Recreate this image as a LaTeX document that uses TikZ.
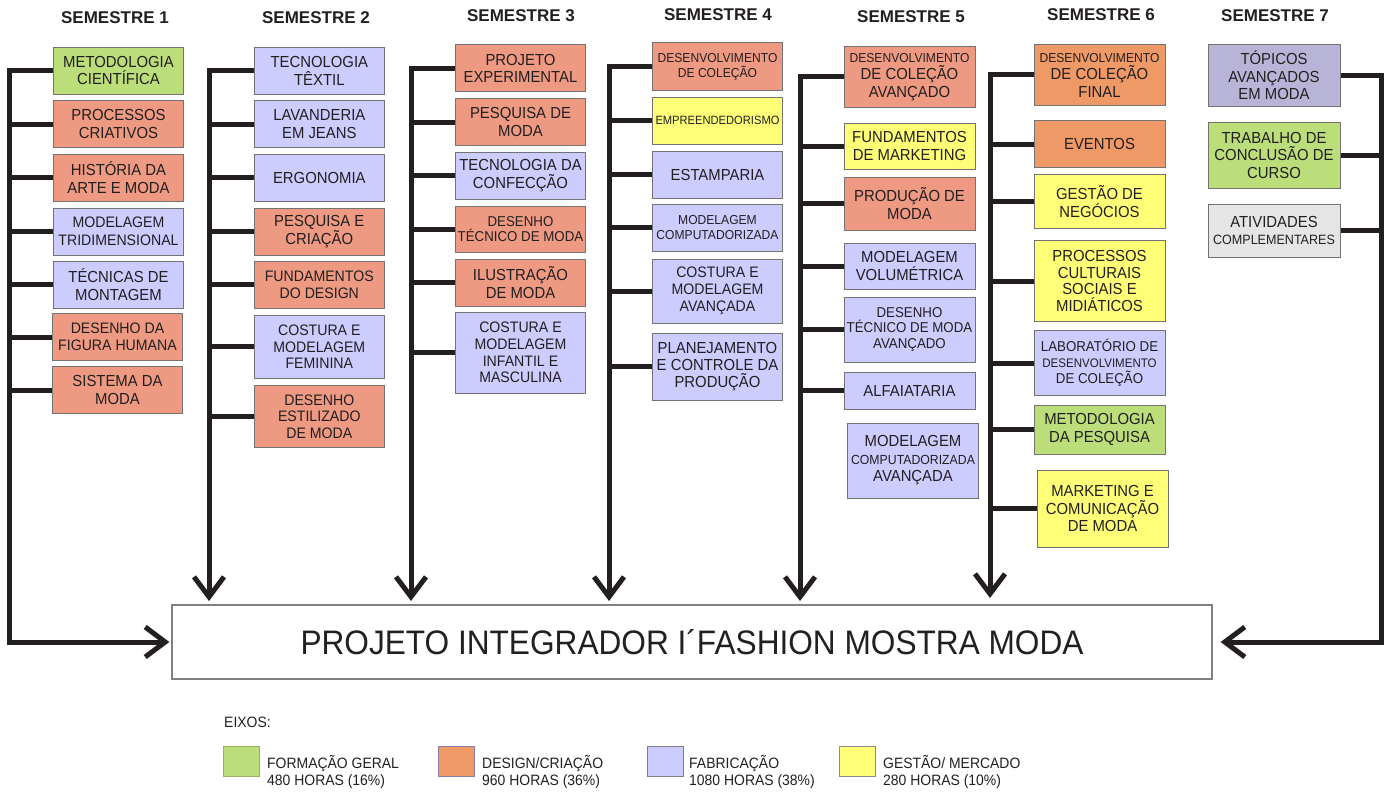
\documentclass[tikz,border=0pt]{standalone}
\usepackage{fontspec}
\setmainfont{Liberation Sans}
\newfontfamily\boxfont[FakeStretch=0.93]{Liberation Sans}
\usetikzlibrary{arrows.meta}
\definecolor{verde}{RGB}{187,221,122}
\definecolor{salmao}{RGB}{238,154,130}
\definecolor{laranja}{RGB}{238,153,102}
\definecolor{lilas}{RGB}{204,204,255}
\definecolor{amarelo}{RGB}{255,255,119}
\definecolor{roxo}{RGB}{184,180,216}
\definecolor{cinza}{RGB}{229,229,229}
\definecolor{tinta}{RGB}{35,31,32}
\newcommand{\tam}[2]{\fontsize{#1}{#2}\selectfont}
\begin{document}
\begin{tikzpicture}[
        x=1pt, y=-1pt,
        line join=miter,
        font=\boxfont,
        text=tinta
    ]
    \tikzset{
        disc/.style = {rectangle, draw=black!55, line width=1pt, align=center, minimum width=130pt, inner sep=1pt, font=\boxfont\tam{16}{17.5}},
        discmd/.style = {disc, font=\boxfont\tam{14.3}{15.7}},
        discpq/.style = {disc, font=\boxfont\tam{13}{14.5}},
        semnode/.style = {font=\bfseries\tam{17}{20}},
        ramo/.style = {draw=tinta, line width=5pt},
        seta/.style = {ramo, -{Straight Barb[length=20pt,width=30pt]}},
        legbox/.style = {rectangle, line width=1pt, minimum width=36pt, minimum height=30pt, inner sep=0pt},
        legtext/.style = {anchor=base west, inner sep=0pt, font=\boxfont\tam{15}{17}}
    }
    \useasboundingbox (0,0) rectangle (1390,792);

    \node[semnode] (h1) at (115,18) {SEMESTRE 1};
    \node[semnode] (h2) at (316,18) {SEMESTRE 2};
    \node[semnode] (h3) at (521,16) {SEMESTRE 3};
    \node[semnode] (h4) at (718,14.5) {SEMESTRE 4};
    \node[semnode] (h5) at (911,17) {SEMESTRE 5};
    \node[semnode] (h6) at (1101,15) {SEMESTRE 6};
    \node[semnode] (h7) at (1275,16) {SEMESTRE 7};

    \node[disc, fill=verde, minimum height=47pt] (s1a) at (118.5,70.7) {METODOLOGIA\\CIENTÍFICA};
    \node[disc, fill=salmao, minimum height=47pt] (s1b) at (118.5,124.2) {PROCESSOS\\CRIATIVOS};
    \node[disc, fill=salmao, minimum height=47pt] (s1c) at (118.5,177.8) {HISTÓRIA DA\\ARTE E MODA};
    \node[disc, fill=lilas, minimum height=47pt, font=\boxfont\tam{15.2}{17.5}] (s1d) at (118.5,231.5) {MODELAGEM\\TRIDIMENSIONAL};
    \node[disc, fill=lilas, minimum height=47pt] (s1e) at (118.5,284.7) {TÉCNICAS DE\\MONTAGEM};
    \node[disc, fill=salmao, minimum height=47pt, font=\boxfont\tam{15.2}{17.5}] (s1f) at (117.5,337) {DESENHO DA\\FIGURA HUMANA};
    \node[disc, fill=salmao, minimum height=47pt] (s1g) at (117.5,390) {SISTEMA DA\\MODA};

    \node[disc, fill=lilas, minimum height=47pt] (s2a) at (319.3,70.7) {TECNOLOGIA\\TÊXTIL};
    \node[disc, fill=lilas, minimum height=47pt] (s2b) at (319.3,124.2) {LAVANDERIA\\EM JEANS};
    \node[disc, fill=lilas, minimum height=47pt] (s2c) at (319.3,177.8) {ERGONOMIA};
    \node[disc, fill=salmao, minimum height=47pt] (s2d) at (319.3,231.5) {PESQUISA E\\CRIAÇÃO};
    \node[disc, fill=salmao, minimum height=47pt, font=\boxfont\tam{15.2}{17.5}] (s2e) at (319.3,284.7) {FUNDAMENTOS\\DO DESIGN};
    \node[disc, fill=lilas, minimum height=63pt, font=\boxfont\tam{15.2}{16.7}] (s2f) at (319.3,346.7) {COSTURA E\\MODELAGEM\\FEMININA};
    \node[disc, fill=salmao, minimum height=62pt, font=\boxfont\tam{15.2}{16.7}] (s2g) at (319.3,416.5) {DESENHO\\ESTILIZADO\\DE MODA};

    \node[disc, fill=salmao, minimum height=47pt] (s3a) at (520.5,68.5) {PROJETO\\EXPERIMENTAL};
    \node[disc, fill=salmao, minimum height=47pt] (s3b) at (520.5,122) {PESQUISA DE\\MODA};
    \node[disc, fill=lilas, minimum height=47pt] (s3c) at (520.5,175.5) {TECNOLOGIA DA\\CONFECÇÃO};
    \node[discmd, fill=salmao, minimum height=46pt] (s3d) at (520.5,229) {DESENHO\\TÉCNICO DE MODA};
    \node[disc, fill=salmao, minimum height=47pt] (s3e) at (520.5,282.5) {ILUSTRAÇÃO\\DE MODA};
    \node[disc, fill=lilas, minimum height=81pt, font=\boxfont\tam{15.2}{16.7}] (s3f) at (520.5,352.5) {COSTURA E\\MODELAGEM\\INFANTIL E\\MASCULINA};

    \node[discpq, fill=salmao, minimum height=48pt] (s4a) at (717.5,67) {DESENVOLVIMENTO\\DE COLEÇÃO};
    \node[disc, fill=amarelo, minimum height=47pt, font=\boxfont\tam{12}{14}] (s4b) at (717.5,120.5) {EMPREENDEDORISMO};
    \node[disc, fill=lilas, minimum height=47pt] (s4c) at (717.5,174.5) {ESTAMPARIA};
    \node[discpq, fill=lilas, minimum height=47pt] (s4d) at (717.5,227.5) {MODELAGEM\\COMPUTADORIZADA};
    \node[disc, fill=lilas, minimum height=64pt, font=\boxfont\tam{15.2}{16.7}] (s4e) at (717.5,291) {COSTURA E\\MODELAGEM\\AVANÇADA};
    \node[disc, fill=lilas, minimum height=67pt, font=\boxfont\tam{16}{17}] (s4f) at (717.5,366.5) {PLANEJAMENTO\\E CONTROLE DA\\PRODUÇÃO};

    \node[disc, fill=salmao, minimum height=60pt, minimum width=131pt] (s5a) at (909.5,77) {{\tam{13}{14.5}DESENVOLVIMENTO}\\DE COLEÇÃO\\AVANÇADO};
    \node[disc, fill=amarelo, minimum height=46pt, minimum width=131pt] (s5b) at (909.5,146) {FUNDAMENTOS\\DE MARKETING};
    \node[disc, fill=salmao, minimum height=53pt, minimum width=131pt] (s5c) at (909.5,203.5) {PRODUÇÃO DE\\MODA};
    \node[disc, fill=lilas, minimum height=46pt, minimum width=131pt] (s5d) at (909.5,266) {MODELAGEM\\VOLUMÉTRICA};
    \node[discmd, fill=lilas, minimum height=65pt, minimum width=131pt] (s5e) at (909.5,329.5) {DESENHO\\TÉCNICO DE MODA\\AVANÇADO};
    \node[disc, fill=lilas, minimum height=37pt, minimum width=131pt] (s5f) at (909.5,390.5) {ALFAIATARIA};
    \node[disc, fill=lilas, minimum height=75pt, minimum width=131pt] (s5g) at (913,460.5) {MODELAGEM\\{\tam{13.2}{15}COMPUTADORIZADA}\\AVANÇADA};

    \node[disc, fill=laranja, minimum height=60pt, minimum width=131pt] (s6a) at (1099.5,75) {{\tam{13}{14.5}DESENVOLVIMENTO}\\DE COLEÇÃO\\FINAL};
    \node[disc, fill=laranja, minimum height=47pt, minimum width=131pt] (s6b) at (1099.5,144) {EVENTOS};
    \node[disc, fill=amarelo, minimum height=54pt, minimum width=131pt] (s6c) at (1099.5,201.5) {GESTÃO DE\\NEGÓCIOS};
    \node[disc, fill=amarelo, minimum height=81pt, minimum width=131pt, font=\boxfont\tam{16}{16.8}] (s6d) at (1099.5,281) {PROCESSOS\\CULTURAIS\\SOCIAIS E\\MIDIÁTICOS};
    \node[discmd, fill=lilas, minimum height=65pt, minimum width=131pt] (s6e) at (1099.5,363) {LABORATÓRIO DE\\{\tam{12.4}{14}DESENVOLVIMENTO}\\DE COLEÇÃO};
    \node[disc, fill=verde, minimum height=49pt, minimum width=131pt] (s6f) at (1099.5,429.5) {METODOLOGIA\\DA PESQUISA};
    \node[disc, fill=amarelo, minimum height=77pt, minimum width=131pt] (s6g) at (1102.5,508.5) {MARKETING E\\COMUNICAÇÃO\\DE MODA};

    \node[disc, fill=roxo, minimum height=61pt, minimum width=132pt] (s7a) at (1274,75.5) {TÓPICOS\\AVANÇADOS\\EM MODA};
    \node[disc, fill=verde, minimum height=66pt, minimum width=132pt] (s7b) at (1274,155) {TRABALHO DE\\CONCLUSÃO DE\\CURSO};
    \node[disc, fill=cinza, minimum height=53pt, minimum width=132pt] (s7c) at (1274,230.5) {ATIVIDADES\\{\tam{13.5}{15}COMPLEMENTARES}};

    \node[rectangle, draw=black!50, line width=1.2pt, fill=white, minimum width=1040pt, minimum height=74pt, font=\boxfont\tam{34}{40}] (pi) at (692,642) {PROJETO INTEGRADOR I´FASHION MOSTRA MODA};

    \coordinate (t1) at (9,642);
    \coordinate (t2) at (209,605);
    \coordinate (t3) at (411,605);
    \coordinate (t4) at (609,605);
    \coordinate (t5) at (800,605);
    \coordinate (t6) at (990,605);
    \coordinate (t7) at (1381,642);

    \draw[seta, shorten >=2pt] (s1a.west) -| (t1) -- (pi.west);
    \draw[ramo] (s1b.west) -- (s1b.west -| t1) (s1c.west) -- (s1c.west -| t1)
        (s1d.west) -- (s1d.west -| t1) (s1e.west) -- (s1e.west -| t1)
        (s1f.west) -- (s1f.west -| t1) (s1g.west) -- (s1g.west -| t1);

    \draw[seta, shorten >=4pt] (s2a.west) -| (t2);
    \draw[ramo] (s2b.west) -- (s2b.west -| t2) (s2c.west) -- (s2c.west -| t2)
        (s2d.west) -- (s2d.west -| t2) (s2e.west) -- (s2e.west -| t2)
        (s2f.west) -- (s2f.west -| t2) (s2g.west) -- (s2g.west -| t2);

    \draw[seta, shorten >=4pt] (s3a.west) -| (t3);
    \draw[ramo] (s3b.west) -- (s3b.west -| t3) (s3c.west) -- (s3c.west -| t3)
        (s3d.west) -- (s3d.west -| t3) (s3e.west) -- (s3e.west -| t3)
        (s3f.west) -- (s3f.west -| t3);

    \draw[seta, shorten >=4pt] (s4a.west) -| (t4);
    \draw[ramo] (s4b.west) -- (s4b.west -| t4) (s4c.west) -- (s4c.west -| t4)
        (s4d.west) -- (s4d.west -| t4) (s4e.west) -- (s4e.west -| t4)
        (s4f.west) -- (s4f.west -| t4);

    \draw[seta, shorten >=4pt] (s5a.west) -| (t5);
    \draw[ramo] (s5b.west) -- (s5b.west -| t5) (s5c.west) -- (s5c.west -| t5)
        (s5d.west) -- (s5d.west -| t5) (s5e.west) -- (s5e.west -| t5)
        (s5f.west) -- (s5f.west -| t5);

    \draw[seta, shorten >=7pt] (s6a.west) -| (t6);
    \draw[ramo] (s6b.west) -- (s6b.west -| t6) (s6c.west) -- (s6c.west -| t6)
        (s6d.west) -- (s6d.west -| t6) (s6e.west) -- (s6e.west -| t6)
        (s6f.west) -- (s6f.west -| t6) (s6g.west) -- (s6g.west -| t6);

    \draw[seta, shorten >=8pt] (s7a.east) -| (t7) -- (pi.east);
    \draw[ramo] (s7b.east) -- (s7b.east -| t7) (s7c.east) -- (s7c.east -| t7);

    \node[legtext] (eixos) at (224,727) {EIXOS:};
    \node[legbox, fill=verde, draw=verde!80!black] (lg1) at (241,761) {};
    \node[legbox, fill=laranja, draw={rgb,255:red,140;green,125;blue,170}] (lg2) at (456,761) {};
    \node[legbox, fill=lilas, draw=black!50] (lg3) at (665,761) {};
    \node[legbox, fill=amarelo, draw=black!45] (lg4) at (857,761) {};
    \node[legtext] (lt1a) at (267,768) {FORMAÇÃO GERAL};
    \node[legtext] (lt1b) at (267,785) {480 HORAS (16\%)};
    \node[legtext] (lt2a) at (482,768) {DESIGN/CRIAÇÃO};
    \node[legtext] (lt2b) at (482,785) {960 HORAS (36\%)};
    \node[legtext] (lt3a) at (689,768) {FABRICAÇÃO};
    \node[legtext] (lt3b) at (689,785) {1080 HORAS (38\%)};
    \node[legtext] (lt4a) at (883,768) {GESTÃO/ MERCADO};
    \node[legtext] (lt4b) at (883,785) {280 HORAS (10\%)};
\end{tikzpicture}
\end{document}
